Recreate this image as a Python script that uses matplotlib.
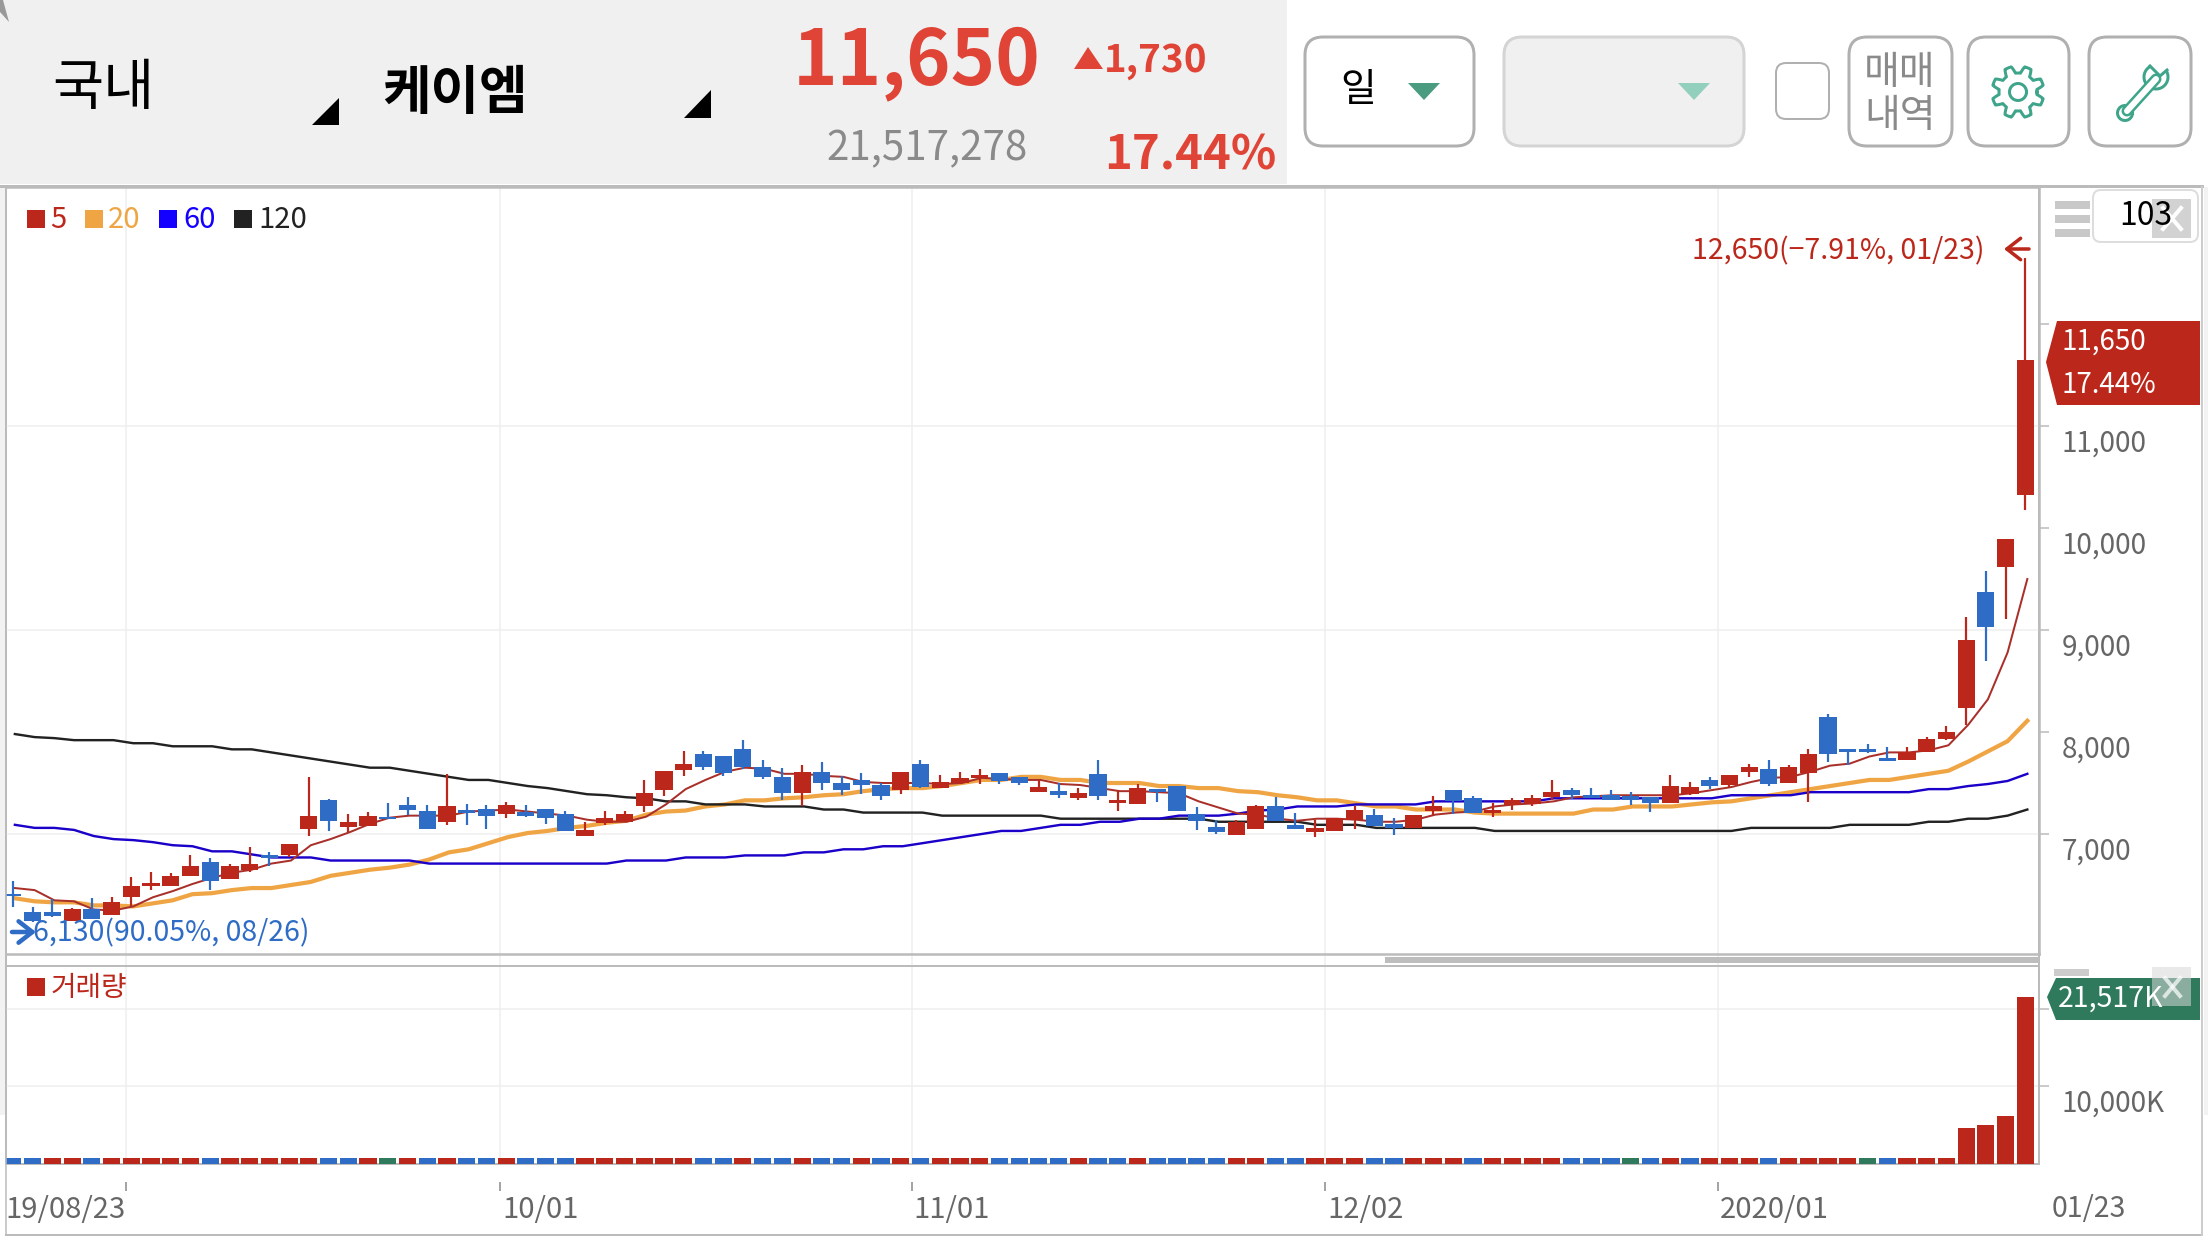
import matplotlib
matplotlib.use("Agg")
import matplotlib.pyplot as plt
from matplotlib.patches import FancyBboxPatch, Polygon, Rectangle
from matplotlib.transforms import ScaledTranslation
import numpy as np

W, H = 2208, 1242
RED = "#BB271A"
BLUE = "#2E6CC6"
GREEN = "#2F7A5C"
GRID = "#EEEEEE"
EDGE = "#BBBBBB"
TEAL = "#3FA58A"

plt.rcParams['font.family'] = ['Noto Sans CJK KR', 'DejaVu Sans']

# daily candles
opens = [6410, 6240, 6240, 6150, 6260, 6210, 6380, 6490, 6490, 6590,
         6730, 6560, 6650, 6790, 6790, 7050, 7330, 7070, 7080, 7170,
         7280, 7230, 7120, 7240, 7250, 7200, 7220, 7250, 7200, 6980,
         7110, 7120, 7270, 7430, 7630, 7780, 7760, 7830, 7660, 7560,
         7400, 7610, 7500, 7530, 7480, 7430, 7690, 7450, 7500, 7550,
         7600, 7560, 7410, 7420, 7350, 7590, 7300, 7290, 7440, 7470,
         7200, 7070, 6990, 7050, 7270, 7090, 7020, 7030, 7140, 7190,
         7100, 7060, 7230, 7430, 7350, 7210, 7280, 7290, 7360, 7430,
         7380, 7380, 7370, 7360, 7300, 7390, 7530, 7480, 7610, 7640,
         7500, 7600, 8150, 7830, 7830, 7750, 7730, 7800, 7930, 8240,
         9370, 9620, 10320]
highs = [6540, 6280, 6360, 6270, 6370, 6380, 6580, 6630, 6620, 6790,
         6760, 6710, 6870, 6820, 6900, 7560, 7340, 7200, 7220, 7300,
         7360, 7280, 7590, 7290, 7280, 7310, 7280, 7250, 7230, 7120,
         7230, 7230, 7530, 7620, 7810, 7810, 7760, 7920, 7730, 7650,
         7680, 7710, 7570, 7600, 7500, 7610, 7730, 7580, 7610, 7640,
         7600, 7560, 7530, 7500, 7450, 7730, 7430, 7490, 7440, 7470,
         7260, 7140, 7140, 7280, 7360, 7210, 7140, 7160, 7270, 7250,
         7160, 7190, 7370, 7430, 7370, 7300, 7350, 7380, 7530, 7450,
         7450, 7430, 7410, 7360, 7580, 7510, 7560, 7580, 7690, 7730,
         7680, 7830, 8180, 7830, 7880, 7850, 7850, 7950, 8060, 9130,
         9580, 9890, 12650]
lows = [6280, 6140, 6190, 6150, 6170, 6210, 6290, 6450, 6490, 6590,
        6450, 6560, 6630, 6690, 6770, 6980, 7030, 7020, 7080, 7150,
        7190, 7050, 7090, 7090, 7050, 7160, 7170, 7100, 7030, 6980,
        7090, 7120, 7220, 7370, 7570, 7630, 7570, 7640, 7540, 7330,
        7270, 7430, 7380, 7390, 7330, 7390, 7450, 7450, 7490, 7490,
        7490, 7480, 7410, 7350, 7330, 7330, 7230, 7290, 7310, 7230,
        7040, 7000, 6990, 7050, 7130, 7050, 6970, 7030, 7050, 7080,
        6990, 7060, 7190, 7200, 7210, 7170, 7240, 7270, 7330, 7340,
        7350, 7330, 7280, 7220, 7300, 7380, 7440, 7460, 7560, 7470,
        7500, 7310, 7710, 7680, 7790, 7720, 7730, 7800, 7920, 8070,
        8700, 9110, 10180]
closes = [6390, 6150, 6200, 6260, 6170, 6330, 6490, 6520, 6590, 6690,
          6540, 6690, 6710, 6760, 6900, 7180, 7130, 7120, 7180, 7150,
          7240, 7050, 7270, 7210, 7180, 7280, 7180, 7160, 7030, 7040,
          7160, 7200, 7400, 7620, 7690, 7660, 7600, 7660, 7560, 7400,
          7610, 7500, 7430, 7480, 7370, 7610, 7460, 7510, 7550, 7580,
          7520, 7500, 7460, 7380, 7400, 7370, 7330, 7450, 7410, 7230,
          7130, 7020, 7120, 7270, 7130, 7050, 7060, 7160, 7240, 7080,
          7060, 7190, 7270, 7320, 7210, 7240, 7330, 7350, 7410, 7380,
          7350, 7330, 7330, 7300, 7470, 7460, 7470, 7580, 7660, 7490,
          7660, 7780, 7780, 7800, 7800, 7720, 7800, 7930, 8000, 8900,
          9030, 9890, 11650]

ma5 = [6470, 6450, 6350, 6340, 6260, 6250, 6290, 6380, 6440, 6510,
       6570, 6620, 6650, 6710, 6740, 6890, 6950, 7020, 7100, 7160,
       7180, 7180, 7180, 7220, 7230, 7240, 7220, 7200, 7180, 7140,
       7120, 7120, 7170, 7290, 7440, 7530, 7610, 7650, 7640, 7590,
       7590, 7570, 7560, 7510, 7500, 7500, 7500, 7490, 7500, 7550,
       7540, 7530, 7530, 7490, 7480, 7450, 7420, 7420, 7410, 7400,
       7320, 7260, 7200, 7190, 7150, 7130, 7150, 7150, 7140, 7120,
       7120, 7140, 7190, 7210, 7220, 7270, 7290, 7300, 7320, 7360,
       7370, 7380, 7380, 7380, 7380, 7400, 7430, 7460, 7510, 7550,
       7560, 7610, 7670, 7690, 7760, 7800, 7800, 7820, 7870, 8070,
       8320, 8780, 9500]
ma20 = [6370, 6340, 6330, 6330, 6300, 6300, 6290, 6320, 6350, 6410,
        6420, 6450, 6470, 6470, 6500, 6530, 6590, 6620, 6650, 6670,
        6700, 6750, 6820, 6850, 6910, 6970, 7010, 7030, 7060, 7080,
        7110, 7130, 7190, 7220, 7230, 7270, 7290, 7330, 7330, 7350,
        7360, 7380, 7390, 7420, 7440, 7450, 7450, 7470, 7500, 7530,
        7530, 7560, 7560, 7530, 7530, 7500, 7500, 7500, 7470, 7470,
        7450, 7450, 7420, 7410, 7380, 7360, 7330, 7330, 7300, 7270,
        7270, 7240, 7240, 7240, 7210, 7200, 7200, 7200, 7200, 7200,
        7240, 7240, 7270, 7270, 7270, 7290, 7310, 7320, 7350, 7380,
        7410, 7440, 7470, 7500, 7530, 7530, 7560, 7590, 7620, 7710,
        7810, 7910, 8110]
ma60 = [7090, 7060, 7060, 7040, 6980, 6950, 6940, 6920, 6890, 6880,
        6830, 6830, 6800, 6770, 6770, 6770, 6740, 6740, 6740, 6740,
        6740, 6710, 6710, 6710, 6710, 6710, 6710, 6710, 6710, 6710,
        6710, 6740, 6740, 6740, 6770, 6770, 6770, 6790, 6790, 6790,
        6820, 6820, 6850, 6850, 6880, 6880, 6910, 6940, 6970, 7000,
        7030, 7030, 7060, 7090, 7090, 7120, 7120, 7150, 7150, 7180,
        7180, 7180, 7200, 7230, 7240, 7270, 7270, 7270, 7290, 7290,
        7290, 7290, 7320, 7320, 7320, 7320, 7320, 7320, 7350, 7350,
        7350, 7350, 7350, 7350, 7350, 7350, 7350, 7380, 7380, 7380,
        7380, 7410, 7410, 7410, 7410, 7410, 7410, 7440, 7440, 7470,
        7490, 7520, 7590]
ma120 = [7980, 7950, 7940, 7920, 7920, 7920, 7890, 7890, 7860, 7860,
         7860, 7830, 7830, 7800, 7770, 7740, 7710, 7680, 7650, 7650,
         7620, 7590, 7560, 7530, 7530, 7500, 7470, 7450, 7420, 7390,
         7380, 7360, 7350, 7320, 7320, 7290, 7290, 7290, 7270, 7270,
         7270, 7240, 7240, 7210, 7210, 7210, 7210, 7180, 7180, 7180,
         7180, 7180, 7180, 7150, 7150, 7150, 7150, 7150, 7150, 7150,
         7150, 7120, 7120, 7120, 7120, 7120, 7090, 7090, 7090, 7060,
         7060, 7060, 7060, 7060, 7060, 7030, 7030, 7030, 7030, 7030,
         7030, 7030, 7030, 7030, 7030, 7030, 7030, 7030, 7060, 7060,
         7060, 7060, 7060, 7090, 7090, 7090, 7090, 7120, 7120, 7150,
         7150, 7180, 7240]

# volume in thousands of shares
volume = [770] * 99 + [4630, 5020, 6180, 21517]
volume_colors = ("bbrrbrrrrr" "brrrrrbbrg" "rbrbbrbbbr" "rrrrrbbrbb" "rbbrbrbrrr"
                 "bbbbrbbrbb" "bbrrbbrrrb" "brrrbrrrrb" "bbgbrbrrrb" "rrrrgbrrrr" "rrr")

price_ticks = [7000, 8000, 9000, 10000, 11000, 12000]
price_grid = [7000, 9000, 11000]
volume_ticks = [10000, 20000]
date_ticks = [5.71, 24.69, 45.55, 66.5, 86.42]
date_labels = ["19/08/23", "10/01", "11/01", "12/02", "2020/01"]

x = np.arange(len(closes))
X0 = (6 - 12.9) / 19.73
X1 = (2039 - 12.9) / 19.73


def px_axes(left, top, right, bottom, **kw):
    return fig.add_axes([left / W, 1 - bottom / H, (right - left) / W, (bottom - top) / H], **kw)


def lw(px):
    return px * 72 / 100


def drop_tick_labels(axis, px):
    # labels sit just under their tick
    off = ScaledTranslation(0, -px / 100, fig.dpi_scale_trans)
    for t in axis.get_yticklabels():
        t.set_va("top")
        t.set_transform(t.get_transform() + off)


fig = plt.figure(figsize=(W / 100, H / 100), dpi=100, facecolor="white")

# backing axes only for the vertical grid, it runs through the gap between panels
ax_bg = px_axes(6, 187, 2039, 1164)
ax_bg.set_xlim(X0, X1)
ax_bg.set_yticks([])
ax_bg.set_xticks(date_ticks)
ax_bg.set_xticklabels([])
ax_bg.tick_params(axis='x', length=0)
ax_bg.grid(True, axis='x', color=GRID, lw=lw(1.5))
ax_bg.set_axisbelow(True)
for name, s in ax_bg.spines.items():
    s.set_visible(name in ("right", "left"))
    s.set_color(EDGE)
    s.set_linewidth(lw(2))

# price panel
ax = px_axes(6, 187, 2039, 954)
ax.patch.set_alpha(0)
ax.set_xlim(X0, X1)
ax.set_ylim(7000 + (834 - 954) / 0.102, 7000 + (834 - 187) / 0.102)
ax.hlines(price_grid, X0, X1, color=GRID, lw=lw(1.5), zorder=1)
line_x = x + 0.1
ax.plot(line_x, ma20, color="#F0A545", lw=lw(4.2), zorder=2)
ax.plot(line_x, ma120, color="#222222", lw=lw(2.4), zorder=2.1)
ax.plot(line_x, ma60, color="#1A00C8", lw=lw(2.4), zorder=2.2)
ax.plot(line_x, ma5, color="#A9302A", lw=lw(2.0), zorder=2.3)
for i in x:
    c = RED if closes[i] >= opens[i] else BLUE
    ax.vlines(i, lows[i], highs[i], color=c, lw=lw(2.2), zorder=3)
    ax.bar(i, closes[i] - opens[i], bottom=opens[i], width=0.87, color=c, zorder=3.1)
ax.set_xticks([])
ax.yaxis.tick_right()
ax.set_yticks(price_ticks)
ax.set_yticklabels([f"{t:,}" if t < 12000 else "" for t in price_ticks])
ax.tick_params(axis='y', length=lw(10), width=lw(1.5), color=EDGE, labelcolor="#666666",
               labelsize=20, pad=lw(13))
drop_tick_labels(ax, 3)
for name, s in ax.spines.items():
    s.set_color(EDGE)
    s.set_linewidth(lw(2.5))
    s.set_visible(name != "left")

# volume panel
ax_vol = px_axes(6, 966, 2039, 1164)
ax_vol.patch.set_alpha(0)
ax_vol.set_xlim(X0, X1)
ax_vol.set_ylim(0, (1164 - 966) / 77.7 * 10000)
color_map = {"r": RED, "b": BLUE, "g": GREEN}
ax_vol.bar(x, volume, width=0.87, color=[color_map[c] for c in volume_colors], zorder=3)
ax_vol.set_xticks([])
ax_vol.yaxis.tick_right()
ax_vol.set_yticks(volume_ticks)
ax_vol.set_yticklabels(["10,000K", ""])
ax_vol.tick_params(axis='y', length=lw(10), width=lw(1.5), color=EDGE, labelcolor="#666666",
                   labelsize=20, pad=lw(13))
drop_tick_labels(ax_vol, 2)
ax_vol.grid(True, axis='y', color=GRID, lw=lw(1.5))
ax_vol.set_axisbelow(True)
for name, s in ax_vol.spines.items():
    s.set_color(EDGE)
    s.set_linewidth(lw(2))
    s.set_visible(name in ("top", "bottom", "right"))

# date strip under the volume panel
ax_date = px_axes(6, 1182, 2039, 1235)
ax_date.patch.set_alpha(0)
ax_date.set_xlim(X0, X1)
ax_date.set_ylim(0, 1)
ax_date.set_yticks([])
ax_date.set_xticks(date_ticks)
ax_date.set_xticklabels([])
ax_date.tick_params(axis='x', top=True, bottom=False, direction='in', length=lw(9),
                    width=lw(1.5), color="#888888")
for name, s in ax_date.spines.items():
    s.set_visible(False)
for pos, lab in zip(date_ticks, date_labels):
    first = lab == date_labels[0]
    ax_date.annotate(lab, (pos, 0.47), xytext=(0 if first else 2, 0), textcoords="offset pixels",
                     ha="right" if first else "left", va="center", color="#666666", fontsize=21)

# everything around the chart goes on an overlay in pixel coordinates
ui = fig.add_axes([0, 0, 1, 1], zorder=10)
ui.set_xlim(0, W)
ui.set_ylim(H, 0)
ui.axis("off")
ui.patch.set_alpha(0)


def rect(x0, y0, x1, y1, color, **kw):
    ui.add_patch(Rectangle((x0, y0), x1 - x0, y1 - y0, facecolor=color, edgecolor="none", **kw))


def button(x0, y0, x1, y1, r=18, face="white", edge="#B0B0B0", width=3):
    ui.add_patch(FancyBboxPatch((x0 + r, y0 + r), x1 - x0 - 2 * r, y1 - y0 - 2 * r,
                                boxstyle=f"round,pad={r},rounding_size={r}",
                                facecolor=face, edgecolor=edge, lw=lw(width)))


def tri(pts, color):
    ui.add_patch(Polygon(pts, closed=True, facecolor=color, edgecolor="none"))


# header band
rect(0, 0, 1287, 184, "#F0F0F0")
tri([(0, 0), (3, 0), (9, 22), (0, 12)], "#999999")
rect(0, 187, 5, 1115, "#F2F2F2")
rect(2204, 187, W, 1115, "#F2F2F2")
ui.plot([0, W - 6], [186, 186], color=EDGE, lw=lw(3))

ui.text(52, 89, "국내", fontsize=40, color="black", va="center", ha="left")
ui.text(382, 93, "케이엠", fontsize=38, color="black", va="center", ha="left", fontweight="bold")
tri([(339, 98), (339, 125), (312, 125)], "black")
tri([(711, 90), (711, 118), (684, 118)], "black")

ui.text(793, 62, "11,650", fontsize=54.5, color="#E04436", va="center", ha="left", fontweight="bold")
tri([(1074, 69), (1088, 47), (1103, 69)], "#E04436")
ui.text(1104, 61, "1,730", fontsize=27.8, color="#E04436", va="center", ha="left", fontweight="bold")
ui.text(826, 149, "21,517,278", fontsize=29, color="#8A8A8A", va="center", ha="left")
ui.text(1104, 155, "17.44%", fontsize=34, color="#E04436", va="center", ha="left", fontweight="bold")

# buttons
button(1305, 37, 1474, 146)
ui.text(1358, 90, "일", fontsize=28, color="black", va="center", ha="center")
tri([(1408, 83), (1440, 83), (1424, 100)], "#4A9B80")
button(1504, 37, 1744, 146, face="#F0F0F0", edge="#D4D4D4")
tri([(1678, 83), (1710, 83), (1694, 100)], "#93CFBD")
button(1776, 63, 1829, 119, r=10, edge="#B0B0B0", width=2)
button(1849, 37, 1952, 146)
ui.text(1900, 73, "매매", fontsize=28, color="#8A8A8A", va="center", ha="center")
ui.text(1900, 116, "내역", fontsize=28, color="#8A8A8A", va="center", ha="center")
button(1968, 37, 2069, 146)
button(2089, 37, 2191, 146)

# gear icon
theta = np.linspace(0, 2 * np.pi, 481)
radius = 22.5 + 3.5 * np.clip(2.0 * np.cos(8 * (theta + np.pi / 8)), -1, 1)
ui.plot(2018 + radius * np.cos(theta), 92 + radius * np.sin(theta), color=TEAL, lw=lw(3))
ui.plot(2018 + 8.5 * np.cos(theta), 92 + 8.5 * np.sin(theta), color=TEAL, lw=lw(3))

# wrench icon
ui.plot([2127, 2156], [111, 79], color=TEAL, lw=lw(11), solid_capstyle="round")
ui.plot(2125 + 7.5 * np.cos(theta), 113 + 7.5 * np.sin(theta), color=TEAL, lw=lw(3))
arc = np.linspace(-np.pi * 0.15, np.pi * 1.3, 60)
ui.plot(2156 + 12 * np.cos(arc), 77 + 12 * np.sin(arc), color=TEAL, lw=lw(3))
ui.add_patch(plt.Circle((2156, 77), 11, facecolor="white", edgecolor="none"))
ui.plot([2127, 2156], [111, 79], color="white", lw=lw(6), solid_capstyle="round")
ui.plot([2150, 2160, 2167], [66, 76, 70], color=TEAL, lw=lw(3))
ui.add_patch(plt.Circle((2125, 113), 4.5, facecolor="white", edgecolor="none"))

# legend
legend_items = [(27, 50, "5", RED), (85, 108, "20", "#F0A545"), (159, 183, "60", "#1400FF"), (234, 258, "120", "#222222")]
for bx, tx, lab, col in legend_items:
    rect(bx, 210, bx + 18, 228, col)
    ui.text(tx, 220, lab, fontsize=21, color=col, va="center", ha="left")
rect(27, 978, 45, 996, RED)
ui.text(51, 988, "거래량", fontsize=20, color=RED, va="center", ha="left")

# high / low notes
ui.text(1692, 251, "12,650(−7.91%, 01/23)", fontsize=20.5, color=RED, va="center", ha="left")
ui.annotate("", xy=(2004, 249), xytext=(2029, 249),
            arrowprops=dict(arrowstyle="->,head_length=0.45,head_width=0.35", color=RED,
                            lw=lw(3.5), mutation_scale=22, shrinkA=0, shrinkB=0))
ui.text(33, 933, "6,130(90.05%, 08/26)", fontsize=20.5, color=BLUE, va="center", ha="left")
ui.annotate("", xy=(36, 932), xytext=(12, 932),
            arrowprops=dict(arrowstyle="->,head_length=0.45,head_width=0.35", color=BLUE,
                            lw=lw(4.5), mutation_scale=22, shrinkA=0, shrinkB=0))

# current price tag
tri([(2046, 362), (2057, 321), (2200, 321), (2200, 405), (2057, 405)], RED)
ui.text(2062, 342, "11,650", fontsize=20, color="white", va="center", ha="left")
ui.text(2062, 385, "17.44%", fontsize=20, color="white", va="center", ha="left")

# panel menu and zoom box
for y0 in (201, 215, 229):
    rect(2055, y0, 2090, y0 + 8, "#C8C8C8")
button(2093, 190, 2198, 242, r=8, edge="#DDDDDD", width=2)
ui.text(2146, 216, "103", fontsize=23, color="black", va="center", ha="center")
rect(2152, 199, 2191, 238, "#C4C4C4", alpha=0.75)
ui.plot([2163, 2181], [208, 229], color="white", lw=lw(4))
ui.plot([2163, 2181], [229, 208], color="white", lw=lw(4))

# volume tag and its controls
rect(2054, 969, 2089, 976, "#CCCCCC")
tri([(2047, 997), (2056, 978), (2200, 978), (2200, 1020), (2056, 1020)], GREEN)
ui.text(2058, 999, "21,517K", fontsize=20.5, color="white", va="center", ha="left")
rect(2152, 967, 2191, 1006, "#D8D8D8", alpha=0.55)
ui.plot([2165, 2180], [978, 996], color="white", lw=lw(4), alpha=0.7)
ui.plot([2165, 2180], [996, 978], color="white", lw=lw(4), alpha=0.7)

# scrollbar and frame
rect(1385, 957, 2039, 963, "#BDBDBD")
ui.plot([6, 2202], [1235, 1235], color=EDGE, lw=lw(2))
ui.plot([2202, 2202], [187, 1235], color="#CCCCCC", lw=lw(2))
ui.plot([6, 6], [187, 1235], color=EDGE, lw=lw(1.5))
ui.text(2052, 1209, "01/23", fontsize=20.5, color="#666666", va="center", ha="left")

fig.savefig("out.png", dpi=100)
